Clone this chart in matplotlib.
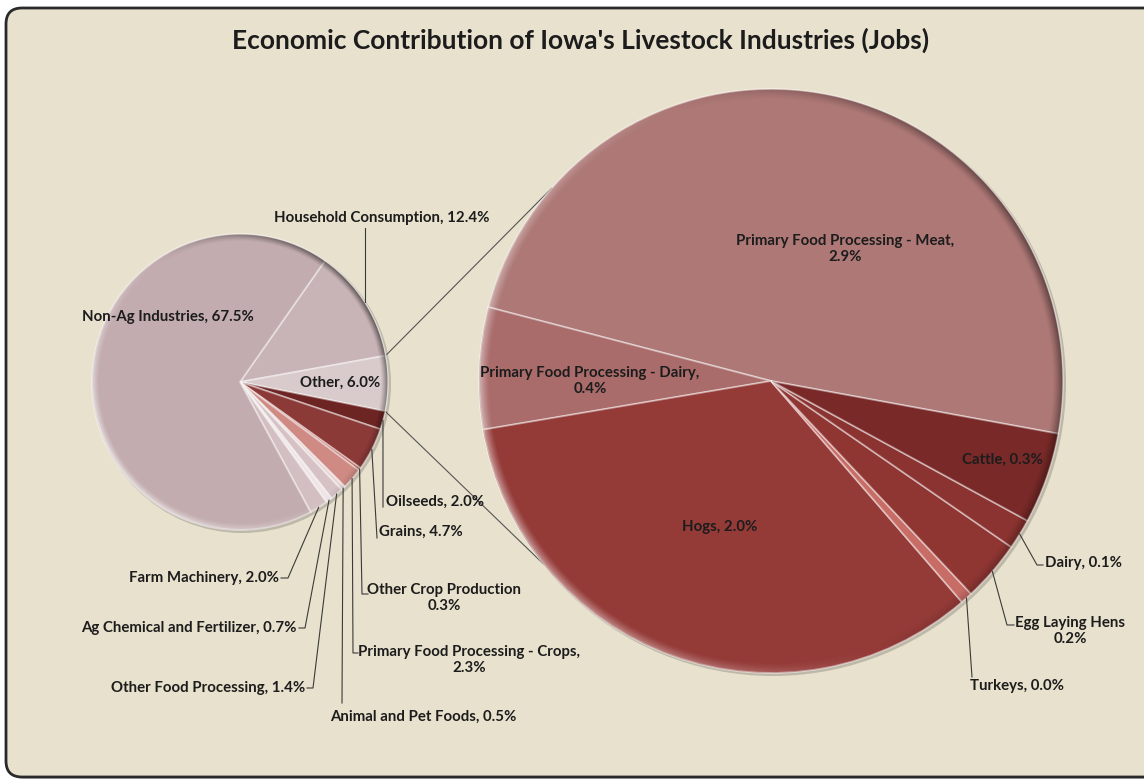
import numpy as np
import matplotlib
matplotlib.use("Agg")
import matplotlib.pyplot as plt
from matplotlib.patches import Circle, FancyBboxPatch

W, H = 1144, 780

# first pie: share of all jobs
left_names = ["Household Consumption", "Other", "Oilseeds", "Grains",
              "Other Crop Production", "Primary Food Processing - Crops",
              "Animal and Pet Foods", "Other Food Processing",
              "Ag Chemical and Fertilizer", "Farm Machinery", "Non-Ag Industries"]
left_values = [12.4, 6.0, 2.0, 4.7, 0.3, 2.3, 0.5, 1.4, 0.7, 2.0, 67.5]
left_colors = ["#c8b4b6", "#d9cbcc", "#6c2523", "#8b3a38", "#b85f58",
               "#cf8a84", "#e8d6d7", "#d6c2c4", "#efe5e6", "#d3bfc1", "#c2acaf"]

# second pie: livestock jobs split out of "Other"
right_names = ["Primary Food Processing - Meat", "Primary Food Processing - Dairy",
               "Hogs", "Turkeys", "Egg Laying Hens", "Dairy", "Cattle"]
right_values = [2.9, 0.4, 2.0, 0.04, 0.2, 0.1, 0.3]
right_colors = ["#ad7876", "#a96c6b", "#943b38", "#c86c66", "#8f3633",
                "#8a3330", "#792a28"]

line_break = {"Other Crop Production": "\n", "Egg Laying Hens": "\n",
              "Primary Food Processing - Crops": ",\n",
              "Primary Food Processing - Meat": ",\n",
              "Primary Food Processing - Dairy": ",\n"}


def label_for(name, value):
    return f"{name}{line_break.get(name, ', ')}{value:.1f}%"


def up(y):
    return H - y


# label anchor (pixels from top-left), alignment, and leader elbow points
left_layout = {
    "Household Consumption": ((382, 218), "center", [(None, 228)]),
    "Other": ((340, 383), "center", None),
    "Oilseeds": ((386, 502), "left", [(383, 507)]),
    "Grains": ((379, 532), "left", [(377, 538)]),
    "Other Crop Production": ((444, 598), "center", [(362, 594), (368, 594)]),
    "Primary Food Processing - Crops": ((469, 660), "center", [(353, 653), (358, 653)]),
    "Animal and Pet Foods": ((423, 717), "center", [(342, 703)]),
    "Other Food Processing": ((305, 688), "right", [(313, 688), (307, 688)]),
    "Ag Chemical and Fertilizer": ((297, 628), "right", [(305, 628), (299, 628)]),
    "Farm Machinery": ((279, 578), "right", [(288, 578), (281, 578)]),
    "Non-Ag Industries": ((168, 317), "center", None),
}
right_layout = {
    "Primary Food Processing - Meat": ((845, 249), "center", None),
    "Primary Food Processing - Dairy": ((590, 381), "center", None),
    "Hogs": ((720, 527), "center", None),
    "Turkeys": ((970, 686), "left", [(972, 677)]),
    "Egg Laying Hens": ((1070, 631), "center", [(1007, 625), (1014, 625)]),
    "Dairy": ((1045, 563), "left", [(1037, 565), (1043, 565)]),
    "Cattle": ((1002, 460), "center", None),
}

left_center, left_r = (240, up(382)), 148
right_center, right_r = (771, up(381)), 292

font = dict(family=["Lato", "DejaVu Sans"], fontweight="bold", color="#1c1c1c")

fig = plt.figure(figsize=(W / 100, H / 100), dpi=100)
fig.patch.set_facecolor("white")
ax = fig.add_axes([0, 0, 1, 1])

# chart area with rounded frame and soft shadow
ax.add_patch(FancyBboxPatch((9, 1), 1170, H - 12,
                            boxstyle="round,pad=0,rounding_size=16",
                            fc="#9a9a9a", ec="none", alpha=0.5, zorder=0))
ax.add_patch(FancyBboxPatch((6, 3), 1170, H - 11,
                            boxstyle="round,pad=0,rounding_size=16",
                            fc="#e8e1cd", ec="#2a2a2a", lw=2, zorder=0.5))


def shade_rim(center, r, light, width, strength):
    # bevel look: light band on one side of the rim, dark band opposite
    cx, cy = center
    n = int(2 * r) + 4
    xs = np.linspace(cx - r - 2, cx + r + 2, n)
    ys = np.linspace(cy - r - 2, cy + r + 2, n)
    X, Y = np.meshgrid(xs, ys)
    d = np.hypot(X - cx, Y - cy)
    s = np.cos(np.arctan2(Y - cy, X - cx) - np.radians(light))
    ring = np.clip((d - (r - width)) / width, 0, 1) ** 1.3
    ring *= np.clip(r - d + 0.5, 0, 1)
    rgba = np.zeros((n, n, 4))
    rgba[..., :3] = np.where(s[..., None] > 0, 1.0, 0.0)
    rgba[..., 3] = ring * strength * np.abs(s) * np.where(s > 0, 1.0, 0.9)
    ax.imshow(rgba, extent=(xs[0], xs[-1], ys[0], ys[-1]), origin="lower",
              interpolation="bilinear", zorder=4)


def draw_pie(values, colors, center, r, start, ccw):
    ax.add_patch(Circle((center[0] + 2, center[1] - 2), r + 1,
                        fc="black", ec="none", alpha=0.18, zorder=1))
    wedges, _ = ax.pie(values, colors=colors, center=center, radius=r,
                       startangle=start, counterclock=ccw, normalize=True,
                       wedgeprops=dict(lw=1.3, ec=(1, 1, 1, 0.45)),
                       frame=True)
    for w in wedges:
        w.set_zorder(2)
    return wedges


left_wedges = draw_pie(left_values, left_colors, left_center, left_r, 55, False)
right_wedges = draw_pie(right_values, right_colors, right_center, right_r, -10.4, True)
shade_rim(left_center, left_r, 215, 7, 0.6)
shade_rim(right_center, right_r, 200, 10, 0.5)
ax.set_xlim(0, W)
ax.set_ylim(0, H)
ax.set_aspect("equal")
ax.axis("off")


def rim_point(wedge, center, r):
    mid = np.radians((wedge.theta1 + wedge.theta2) / 2)
    return center[0] + r * np.cos(mid), center[1] + r * np.sin(mid)


def place_labels(names, values, wedges, layout, center, r):
    for name, value, wedge in zip(names, values, wedges):
        (x, y), ha, leader = layout[name]
        ax.text(x, up(y), label_for(name, value), ha=ha, va="center",
                multialignment="center", fontsize=10.8, zorder=6, **font)
        if leader:
            rx, ry = rim_point(wedge, center, r)
            xs, ys = [rx], [ry]
            for px, py in leader:
                xs.append(rx if px is None else px)
                ys.append(up(py))
            ax.plot(xs, ys, color="#3a3a3a", lw=0.8, zorder=5)


place_labels(left_names, left_values, left_wedges, left_layout, left_center, left_r)
place_labels(right_names, right_values, right_wedges, right_layout, right_center, right_r)

# connector lines from the "Other" slice to the second pie
other = left_wedges[left_names.index("Other")]
for a_left, a_right in [(other.theta2, 138.7), (other.theta1, 218.8)]:
    x0 = left_center[0] + left_r * np.cos(np.radians(a_left))
    y0 = left_center[1] + left_r * np.sin(np.radians(a_left))
    x1 = right_center[0] + right_r * np.cos(np.radians(a_right))
    y1 = right_center[1] + right_r * np.sin(np.radians(a_right))
    ax.plot([x0, x1], [y0, y1], color="#555555", lw=0.8, zorder=1.5)

ax.text(581, up(40), "Economic Contribution of Iowa's Livestock Industries (Jobs)",
        ha="center", va="center", fontsize=19, zorder=6, **font)

fig.savefig("out.png", dpi=100)
